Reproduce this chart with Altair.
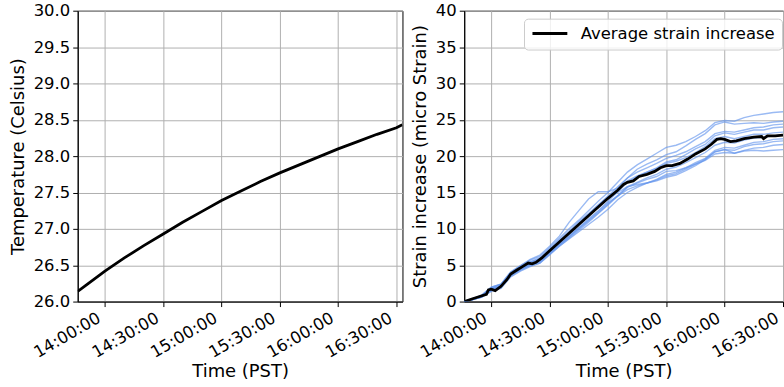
import altair as alt
import pandas as pd

DAY = "2024-01-01T"

# ---------------- temperature (left panel) ----------------
temp_times = ["13:46", "13:50", "14:00", "14:10", "14:20", "14:30", "14:40", "14:50",
              "15:00", "15:10", "15:20", "15:30", "15:40", "15:50", "16:00", "16:10",
              "16:20", "16:30", "16:33"]
temp_values = [26.14, 26.22, 26.42, 26.60, 26.77, 26.93, 27.09, 27.24,
               27.39, 27.52, 27.65, 27.77, 27.88, 27.99, 28.10, 28.20,
               28.30, 28.39, 28.43]

# ---------------- average strain (black line) ----------------
avg_times = ["13:46", "13:50", "13:54", "13:57:30", "13:58:30", "14:00", "14:02", "14:05",
             "14:08", "14:10", "14:13", "14:16", "14:19", "14:21", "14:23", "14:26",
             "14:30", "14:35", "14:40", "14:45", "14:50", "14:55", "15:00", "15:05",
             "15:08", "15:10", "15:13", "15:16", "15:20", "15:24", "15:27", "15:30",
             "15:33", "15:37", "15:41", "15:45", "15:50", "15:53", "15:56", "15:58",
             "16:00", "16:03", "16:06", "16:10", "16:15", "16:19", "16:20", "16:22",
             "16:26", "16:30"]
avg_values = [0.0, 0.35, 0.7, 1.0, 1.6, 1.7, 1.5, 2.1,
              3.0, 3.8, 4.3, 4.8, 5.3, 5.2, 5.4, 6.0,
              7.0, 8.2, 9.4, 10.6, 11.8, 13.0, 14.2, 15.3,
              16.1, 16.4, 16.6, 17.2, 17.5, 17.9, 18.4, 18.7,
              18.7, 19.0, 19.6, 20.3, 21.0, 21.6, 22.3, 22.4,
              22.3, 22.0, 22.1, 22.4, 22.6, 22.7, 22.4, 22.8,
              22.8, 22.9]

# ---------------- individual strain sensors (light blue) ----------------
sensor_times = ["13:46", "13:50", "13:55", "14:00", "14:05", "14:10", "14:15", "14:20",
                "14:25", "14:30", "14:35", "14:40", "14:45", "14:50", "14:55", "15:00",
                "15:05", "15:10", "15:15", "15:20", "15:25", "15:30", "15:35", "15:40",
                "15:45", "15:50", "15:55", "16:00", "16:05", "16:10", "16:15", "16:20",
                "16:25", "16:30"]
sensor_1 = [0.0, 0.35, 0.8, 2.0, 2.4, 4.1, 4.95, 5.7, 6.2, 7.4, 8.7, 10.0, 11.2, 12.5, 13.8, 15.0,
            16.4, 17.8, 18.8, 19.6, 20.4, 21.2, 21.5, 22.0, 22.7, 23.5, 24.6, 24.9, 24.8, 25.3,
            25.6, 25.8, 26.0, 26.1]
sensor_2 = [0.0, 0.3, 0.8, 1.9, 2.4, 4.0, 4.9, 5.8, 6.4, 7.6, 9.0, 10.9, 12.5, 14.1, 15.1, 15.1,
            15.6, 17.0, 18.2, 18.9, 19.5, 20.2, 20.6, 21.4, 22.3, 23.1, 24.3, 24.7, 24.4, 24.5,
            24.6, 24.5, 24.7, 24.8]
sensor_3 = [0.0, 0.25, 0.6, 1.6, 2.2, 3.8, 4.7, 5.5, 6.0, 7.2, 8.5, 9.7, 11.0, 12.1, 13.3, 14.5,
            15.8, 17.0, 17.8, 18.4, 19.0, 19.7, 20.1, 20.6, 21.3, 22.0, 23.1, 23.4, 23.3, 23.6,
            23.9, 24.0, 24.3, 24.4]
sensor_4 = [0.0, 0.35, 0.8, 1.8, 2.1, 3.7, 4.4, 5.1, 5.7, 6.8, 7.9, 9.1, 10.2, 11.4, 12.5, 13.8,
            15.1, 16.4, 17.2, 17.8, 18.4, 19.2, 19.5, 20.2, 21.0, 21.6, 22.8, 23.2, 23.0, 23.3,
            23.6, 23.6, 23.9, 24.0]
sensor_5 = [0.0, 0.25, 0.6, 1.5, 2.0, 3.7, 4.6, 5.4, 5.8, 7.0, 8.3, 9.5, 10.8, 12.0, 13.2, 14.4,
            15.4, 16.6, 17.3, 17.8, 18.3, 19.0, 19.3, 19.8, 20.5, 21.3, 22.4, 22.7, 22.4, 22.7,
            23.0, 23.0, 23.2, 23.3]
sensor_6 = [0.0, 0.3, 0.7, 1.7, 2.0, 3.6, 4.4, 5.0, 5.5, 6.7, 7.8, 8.9, 10.0, 11.1, 12.2, 13.4,
            14.6, 15.8, 16.4, 17.0, 17.5, 18.2, 18.5, 19.1, 19.8, 20.5, 21.5, 21.9, 21.8, 22.2,
            22.5, 22.6, 22.8, 22.9]
sensor_7 = [0.0, 0.25, 0.6, 1.4, 1.8, 3.4, 4.2, 4.8, 5.3, 6.5, 7.6, 8.6, 9.6, 10.6, 11.6, 12.7,
            14.0, 15.0, 15.7, 16.3, 16.8, 17.5, 17.8, 18.4, 19.1, 19.7, 20.8, 21.2, 21.1, 21.5,
            21.9, 22.0, 22.3, 22.4]
sensor_8 = [0.0, 0.35, 0.9, 2.0, 2.4, 4.0, 4.8, 5.4, 5.9, 7.1, 8.3, 9.4, 10.6, 11.8, 13.1, 14.2,
            15.0, 15.8, 16.1, 16.3, 16.6, 17.1, 17.4, 18.0, 18.7, 19.5, 20.6, 20.9, 20.8, 21.3,
            21.6, 21.7, 22.0, 22.1]
sensor_9 = [0.0, 0.25, 0.6, 1.5, 1.9, 3.5, 4.3, 4.9, 5.3, 6.4, 7.6, 8.7, 9.8, 10.9, 12.1, 13.3,
            14.5, 15.7, 16.3, 16.8, 17.2, 17.9, 18.0, 18.4, 18.9, 19.4, 20.3, 20.5, 20.4, 20.8,
            21.1, 21.2, 21.5, 21.6]
sensor_10 = [0.0, 0.3, 0.75, 1.8, 2.3, 3.8, 4.5, 5.1, 5.5, 6.6, 7.8, 8.9, 10.1, 11.2, 12.4, 13.6,
             14.5, 15.4, 15.9, 16.3, 16.7, 17.3, 17.6, 18.2, 18.9, 19.6, 20.6, 20.9, 20.4, 20.7,
             20.8, 20.7, 20.8, 20.9]
sensors = [sensor_1, sensor_2, sensor_3, sensor_4, sensor_5,
           sensor_6, sensor_7, sensor_8, sensor_9, sensor_10]

temp_ticks = [26.0, 26.5, 27.0, 27.5, 28.0, 28.5, 29.0, 29.5, 30.0]
strain_ticks = [0, 5, 10, 15, 20, 25, 30, 35, 40]
time_tick_hm = [(14, 0), (14, 30), (15, 0), (15, 30), (16, 0), (16, 30)]


def iso(t):
    parts = t.split(":")
    if len(parts) == 2:
        parts.append("00")
    return DAY + ":".join(parts)


def dt(h, m, s=0):
    return alt.DateTime(year=2024, month=1, date=1, hours=h, minutes=m, seconds=s)


df_temp = pd.DataFrame({"time": [iso(t) for t in temp_times], "temp": temp_values})
df_avg = pd.DataFrame({"time": [iso(t) for t in avg_times], "strain": avg_values,
                       "name": ["Average strain increase"] * len(avg_times)})
rows = []
for i, s in enumerate(sensors):
    for t, v in zip(sensor_times, s):
        rows.append({"time": iso(t), "strain": v, "sensor": f"S{i+1}"})
df_sensors = pd.DataFrame(rows)

time_ticks = [dt(h, m) for h, m in time_tick_hm]

x_axis = alt.Axis(values=time_ticks, format="%H:%M:%S", labelAngle=330,
                  labelAlign="right", labelBaseline="top", labelOverlap=False,
                  labelFlush=False, labelOffset=-10, titlePadding=2, title="Time (PST)")

left = alt.Chart(df_temp).mark_line(color="black", strokeWidth=2.8, clip=True).encode(
    x=alt.X("time:T", scale=alt.Scale(domain=[dt(13, 46), dt(16, 33, 6)]), axis=x_axis),
    y=alt.Y("temp:Q", scale=alt.Scale(domain=[26, 30], nice=False, zero=False),
            axis=alt.Axis(values=temp_ticks, format=".1f", title="Temperature (Celsius)")),
).properties(width=326, height=292)

x_right = alt.X("time:T", scale=alt.Scale(domain=[dt(13, 46, 5), dt(16, 30)]), axis=x_axis)
y_right = alt.Y("strain:Q", scale=alt.Scale(domain=[0, 40], nice=False),
                axis=alt.Axis(values=strain_ticks, format="d",
                              title="Strain increase (micro Strain)"))

sensor_lines = alt.Chart(df_sensors).mark_line(
    color="#6495ED", opacity=0.65, strokeWidth=1.4, clip=True
).encode(x=x_right, y=y_right, detail="sensor:N")

avg_line = alt.Chart(df_avg).mark_line(strokeWidth=2.8, clip=True).encode(
    x=x_right, y=y_right,
    color=alt.Color("name:N",
                    scale=alt.Scale(domain=["Average strain increase"], range=["black"]),
                    legend=alt.Legend(title=None, orient="none", legendX=448, legendY=8,
                                      symbolType="stroke", symbolSize=1225,
                                      symbolStrokeWidth=3, clipHeight=16, padding=7,
                                      labelOffset=12, labelFontSize=16.5, labelLimit=400,
                                      labelFont="DejaVu Sans", labelColor="black",
                                      strokeColor="#cccccc", fillColor="rgba(255,255,255,0.8)",
                                      cornerRadius=4)),
)

right = alt.layer(sensor_lines, avg_line).properties(width=320, height=292)

chart = alt.hconcat(left, right, spacing=7).properties(
    padding={"left": 8, "top": 1, "right": 0, "bottom": 0}
).configure_axis(
    labelFont="DejaVu Sans", labelFontSize=16.5, labelColor="black",
    titleFont="DejaVu Sans", titleFontSize=18, titleFontWeight="normal", titleColor="black",
    domainColor="black", domainWidth=1, tickColor="black", tickSize=5, tickWidth=1,
    gridColor="#b0b0b0", gridWidth=1, labelPadding=3, titlePadding=6,
).configure_view(stroke="black", strokeWidth=1).configure_legend(
    labelFont="DejaVu Sans"
)

chart.save("out.html", embed_options={"renderer": "svg", "actions": False})
